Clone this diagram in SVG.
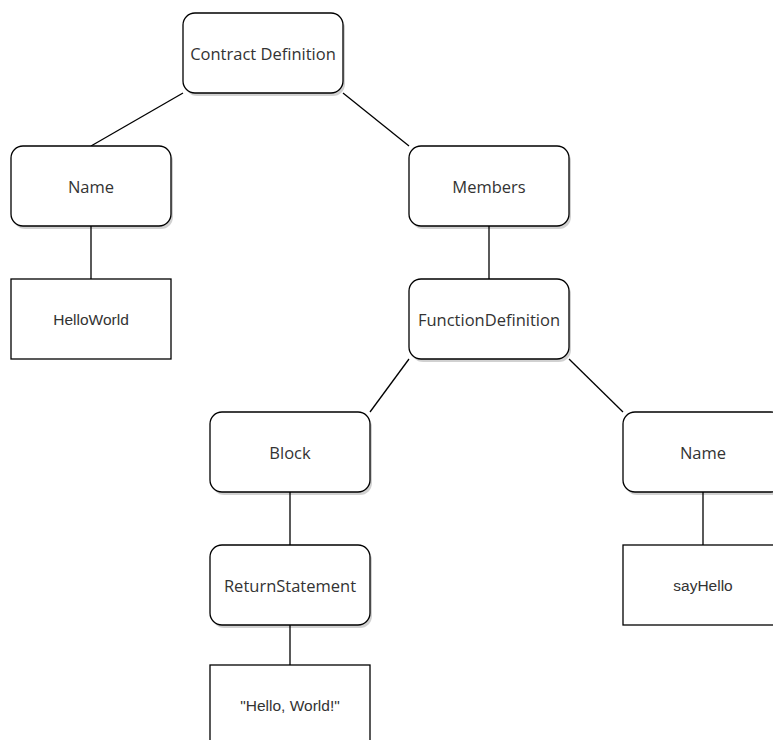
<svg xmlns="http://www.w3.org/2000/svg" width="773" height="740" viewBox="0 0 773 740">
<style>
.node rect.b{fill:#fff;stroke:#000;stroke-width:1.3}
.node rect.s{fill:#000;opacity:0.18;stroke:none}
.t{font-family:"Open Sans","Noto Sans","DejaVu Sans",sans-serif;font-size:16.5px;fill:#333;text-anchor:middle;dominant-baseline:central}
.a{font-family:"Liberation Sans",Arial,sans-serif;font-size:15.5px;fill:#333;text-anchor:middle;dominant-baseline:central}
.edges line{stroke:#000;stroke-width:1.3;fill:none}
</style>
<rect width="773" height="740" fill="#fff"/>
<g class="edges" id="connectors">
<line x1="183" y1="93" x2="91" y2="146"/>
<line x1="343" y1="93" x2="409" y2="146"/>
<line x1="91" y1="226" x2="91" y2="279"/>
<line x1="489" y1="226" x2="489" y2="279"/>
<line x1="409" y1="359" x2="370" y2="412"/>
<line x1="569" y1="359" x2="623" y2="412"/>
<line x1="290" y1="492" x2="290" y2="545"/>
<line x1="290" y1="625" x2="290" y2="665"/>
<line x1="703" y1="492" x2="703" y2="545"/>
</g>
<g class="node" id="contract-definition">
<rect class="s" x="185" y="16" width="160" height="80" rx="12"/>
<rect class="b" x="183" y="13" width="160" height="80" rx="12"/>
<text class="t" x="263" y="53">Contract Definition</text>
</g>
<g class="node" id="name-1">
<rect class="s" x="13" y="149" width="160" height="80" rx="12"/>
<rect class="b" x="11" y="146" width="160" height="80" rx="12"/>
<text class="t" x="91" y="186">Name</text>
</g>
<g class="node" id="helloworld">
<rect class="b" x="11" y="279" width="160" height="80"/>
<text class="a" x="91" y="319">HelloWorld</text>
</g>
<g class="node" id="members">
<rect class="s" x="411" y="149" width="160" height="80" rx="12"/>
<rect class="b" x="409" y="146" width="160" height="80" rx="12"/>
<text class="t" x="489" y="186">Members</text>
</g>
<g class="node" id="function-definition">
<rect class="s" x="411" y="282" width="160" height="80" rx="12"/>
<rect class="b" x="409" y="279" width="160" height="80" rx="12"/>
<text class="t" x="489" y="319">FunctionDefinition</text>
</g>
<g class="node" id="block">
<rect class="s" x="212" y="415" width="160" height="80" rx="12"/>
<rect class="b" x="210" y="412" width="160" height="80" rx="12"/>
<text class="t" x="290" y="452">Block</text>
</g>
<g class="node" id="return-statement">
<rect class="s" x="212" y="548" width="160" height="80" rx="12"/>
<rect class="b" x="210" y="545" width="160" height="80" rx="12"/>
<text class="t" x="290" y="585">ReturnStatement</text>
</g>
<g class="node" id="hello-world-string">
<rect class="b" x="210" y="665" width="160" height="80"/>
<text class="a" x="290" y="705">"Hello, World!"</text>
</g>
<g class="node" id="name-2">
<rect class="s" x="625" y="415" width="160" height="80" rx="12"/>
<rect class="b" x="623" y="412" width="160" height="80" rx="12"/>
<text class="t" x="703" y="452">Name</text>
</g>
<g class="node" id="sayhello">
<rect class="b" x="623" y="545" width="160" height="80"/>
<text class="a" x="703" y="585">sayHello</text>
</g>
</svg>
